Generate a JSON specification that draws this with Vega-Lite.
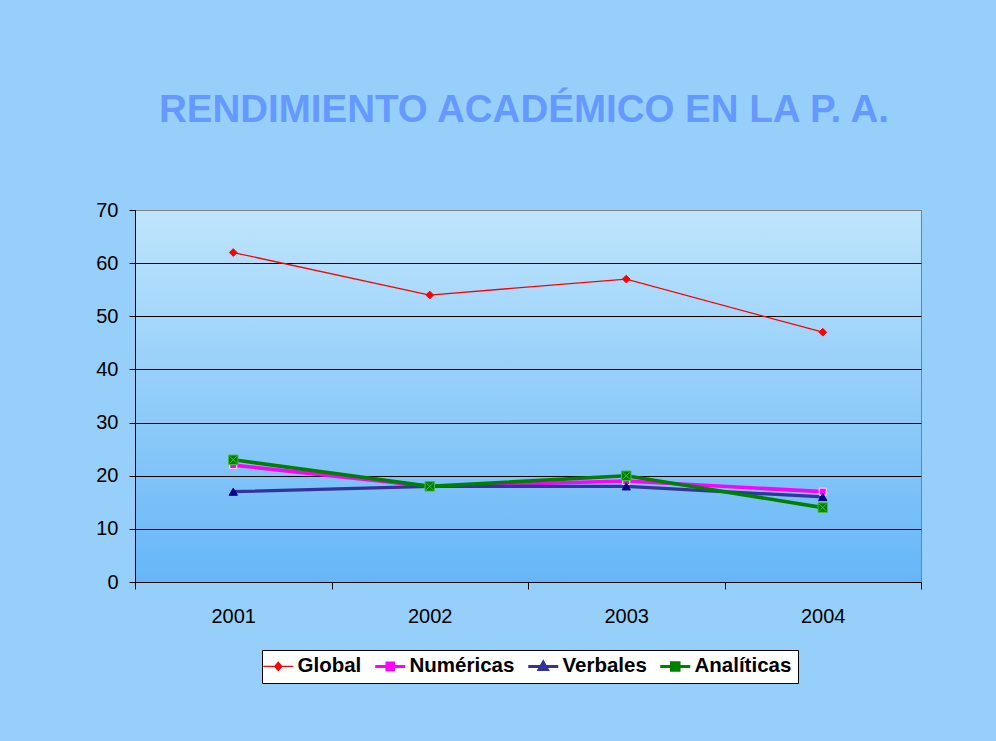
{
  "$schema": "https://vega.github.io/schema/vega-lite/v6.json",
  "width": 786,
  "height": 372,
  "autosize": {"type": "none"},
  "padding": {"left": 135, "top": 210, "right": 75, "bottom": 159},
  "background": "#96d0fa",
  "title": {
    "text": "RENDIMIENTO ACADÉMICO EN LA P. A.",
    "font": "Liberation Sans",
    "fontSize": 38.5,
    "fontWeight": "bold",
    "color": "#6699ff",
    "anchor": "middle",
    "offset": 70,
    "dx": -4
  },
  "config": {
    "view": {
      "stroke": "#808080",
      "strokeWidth": 1,
      "fill": {
        "gradient": "linear",
        "x1": 0, "y1": 0, "x2": 0, "y2": 1,
        "stops": [
          {"offset": 0, "color": "#bee5fd"},
          {"offset": 0.5, "color": "#92cdf9"},
          {"offset": 1, "color": "#66b6f7"}
        ]
      }
    },
    "axis": {
      "labelFont": "Liberation Sans",
      "labelFontSize": 20,
      "labelColor": "#000000",
      "domainColor": "#000000",
      "tickColor": "#000000",
      "title": null
    }
  },
  "data": {
    "values": [
      {"anio": "2001", "serie": "Global", "valor": 62},
      {"anio": "2002", "serie": "Global", "valor": 54},
      {"anio": "2003", "serie": "Global", "valor": 57},
      {"anio": "2004", "serie": "Global", "valor": 47},
      {"anio": "2001", "serie": "Numéricas", "valor": 22},
      {"anio": "2002", "serie": "Numéricas", "valor": 18},
      {"anio": "2003", "serie": "Numéricas", "valor": 19},
      {"anio": "2004", "serie": "Numéricas", "valor": 17},
      {"anio": "2001", "serie": "Verbales", "valor": 17},
      {"anio": "2002", "serie": "Verbales", "valor": 18},
      {"anio": "2003", "serie": "Verbales", "valor": 18},
      {"anio": "2004", "serie": "Verbales", "valor": 16},
      {"anio": "2001", "serie": "Analíticas", "valor": 23},
      {"anio": "2002", "serie": "Analíticas", "valor": 18},
      {"anio": "2003", "serie": "Analíticas", "valor": 20},
      {"anio": "2004", "serie": "Analíticas", "valor": 14}
    ]
  },
  "encoding": {
    "x": {
      "field": "anio",
      "type": "ordinal",
      "bandPosition": 0.5,
      "scale": {"type": "band", "paddingInner": 0, "paddingOuter": 0},
      "axis": {
        "labelAngle": 0,
        "tickBand": "extent",
        "tickSize": 7,
        "labelPadding": 17,
        "grid": false
      }
    },
    "y": {
      "field": "valor",
      "type": "quantitative",
      "scale": {"domain": [0, 70], "nice": false},
      "axis": {
        "values": [0, 10, 20, 30, 40, 50, 60, 70],
        "tickSize": 6,
        "labelPadding": 11,
        "grid": true,
        "gridColor": {"condition": {"test": "datum.value === 70", "value": "#808080"}, "value": "#000000"},
        "gridOpacity": 1,
        "gridWidth": 1
      }
    }
  },
  "layer": [
    {
      "mark": {"type": "line", "clip": false},
      "encoding": {
        "color": {
          "field": "serie",
          "type": "nominal",
          "scale": {
            "domain": ["Global", "Numéricas", "Verbales", "Analíticas"],
            "range": ["#ff0000", "#ff00ff", "#333399", "#008000"]
          },
          "legend": {
            "title": null,
            "orient": "none",
            "legendX": 127,
            "legendY": 440,
            "direction": "horizontal",
            "labelFont": "Liberation Sans",
            "labelFontSize": 20.5,
            "labelFontWeight": "bold",
            "labelColor": "#000000",
            "labelOffset": 9,
            "columnPadding": 7,
            "symbolSize": 900,
            "padding": 6,
            "fillColor": "#ffffff",
            "strokeColor": "#000000",
            "encode": {
              "symbols": {
                "update": {
                  "shape": {"signal": "datum.value === 'Global' ? 'M-1,0H1M-0.23,0L0,-0.27L0.23,0L0,0.27Z' : datum.value === 'Numéricas' ? 'M-1,0H1M-0.22,-0.22H0.22V0.22H-0.22Z' : datum.value === 'Verbales' ? 'M-1,0H1M-0.27,0.2L0.27,0.2L0,-0.27Z' : 'M-1,0H1M-0.25,-0.25H0.25V0.25H-0.25Z'"},
                  "fill": {"signal": "scale('color', datum.value)"},
                  "stroke": {"signal": "scale('color', datum.value)"},
                  "strokeWidth": {"signal": "datum.value === 'Global' ? 1.3 : 3"},
                  "strokeDash": {"value": []},
                  "opacity": {"value": 1},
                  "size": {"value": 900}
                }
              }
            }
          }
        },
        "strokeWidth": {
          "condition": [
            {"test": "datum.serie === 'Global'", "value": 1.3},
            {"test": "datum.serie === 'Verbales'", "value": 3.2}
          ],
          "value": 3.6
        }
      }
    },
    {
      "mark": {"type": "point", "filled": true, "opacity": 1, "clip": false},
      "encoding": {
        "shape": {
          "condition": [
            {"test": "datum.serie === 'Global'", "value": "diamond"},
            {"test": "datum.serie === 'Numéricas'", "value": "square"},
            {"test": "datum.serie === 'Verbales'", "value": "triangle-up"}
          ],
          "value": "M-1,-1H1V1H-1Z M-0.75,-0.75L0.75,0.75M0.75,-0.75L-0.75,0.75"
        },
        "size": {
          "condition": [
            {"test": "datum.serie === 'Global'", "value": 60},
            {"test": "datum.serie === 'Numéricas'", "value": 49},
            {"test": "datum.serie === 'Verbales'", "value": 70}
          ],
          "value": 90
        },
        "fill": {
          "condition": [
            {"test": "datum.serie === 'Global'", "value": "#ff0000"},
            {"test": "datum.serie === 'Numéricas'", "value": "#ff00ff"},
            {"test": "datum.serie === 'Verbales'", "value": "#000080"}
          ],
          "value": "#008000"
        },
        "stroke": {
          "condition": [
            {"test": "datum.serie === 'Global'", "value": "#ff0000"},
            {"test": "datum.serie === 'Numéricas'", "value": "#ffe0ff"},
            {"test": "datum.serie === 'Verbales'", "value": "#000080"}
          ],
          "value": "#44bb44"
        },
        "strokeWidth": {"value": 1}
      }
    }
  ]
}
